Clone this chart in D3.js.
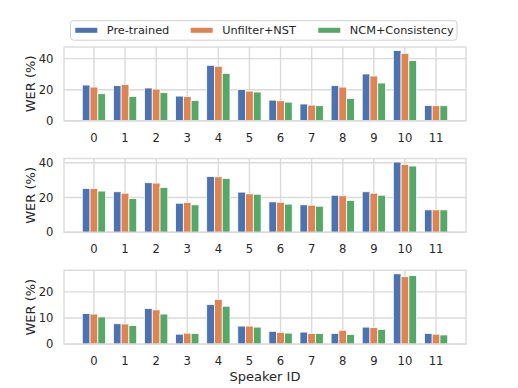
<!DOCTYPE html>
<html>
<head>
<meta charset="utf-8">
<script src="https://cdn.jsdelivr.net/npm/d3@7"></script>
<style>
  body { margin: 0; background: #fff; }
  svg { font-family: "DejaVu Sans", sans-serif; }
</style>
</head>
<body>
<div id="chart"></div>
<script>
// speaker ids on the x axis
let speakers = ["0", "1", "2", "3", "4", "5", "6", "7", "8", "9", "10", "11"]
let seriesNames = ["Pre-trained", "Unfilter+NST", "NCM+Consistency"]
let colors = ["#4C72B0", "#DD8452", "#55A868"]

// WER (%) per speaker, one array per method, one block per panel
let top_pre      = [23.0, 22.6, 21.1, 15.9, 35.7, 20.2, 13.3, 10.8, 22.6, 30.1, 45.2, 9.9]
let top_unfilter = [21.7, 23.4, 20.4, 15.5, 35.1, 19.1, 12.9, 10.1, 21.7, 28.8, 43.4, 9.7]
let top_ncm      = [17.4, 15.7, 18.1, 13.1, 30.5, 18.5, 12.0, 9.7, 14.4, 24.3, 38.7, 9.7]

let mid_pre      = [25.2, 23.3, 28.5, 16.7, 32.1, 23.1, 17.5, 15.8, 21.3, 23.3, 40.4, 12.9]
let mid_unfilter = [25.2, 22.5, 28.3, 17.1, 31.9, 22.1, 17.3, 15.6, 21.0, 22.5, 39.0, 12.9]
let mid_ncm      = [23.7, 19.4, 25.8, 15.8, 31.0, 21.9, 16.2, 15.0, 18.3, 21.3, 38.1, 12.9]

let bot_pre      = [11.7, 7.8, 13.6, 3.8, 15.1, 6.9, 4.9, 4.6, 4.1, 6.5, 26.9, 4.1]
let bot_unfilter = [11.5, 7.7, 13.1, 4.2, 17.1, 6.9, 4.5, 4.1, 5.3, 6.3, 25.8, 3.8]
let bot_ncm      = [10.4, 7.1, 11.5, 4.1, 14.5, 6.5, 4.2, 4.0, 3.7, 5.6, 26.2, 3.5]

let top_ticks = [0, 20, 40]
let mid_ticks = [0, 20, 40]
let bot_ticks = [0, 10, 20]

let panels = [
  { series: [top_pre, top_unfilter, top_ncm], ticks: top_ticks },
  { series: [mid_pre, mid_unfilter, mid_ncm], ticks: mid_ticks },
  { series: [bot_pre, bot_unfilter, bot_ncm], ticks: bot_ticks }
]

let width = 518
let height = 388
let plotLeft = 64
let plotRight = 466
let panelTops = [47, 158.5, 270.3]
let panelHeight = 73.8
let barW = 0.25
let gridColor = "#dadada"

let svg = d3.select("#chart").append("svg")
  .attr("width", width)
  .attr("height", height)

// matplotlib style x limits: bar extent plus 5% margin
let lo = -barW * 1.5, hi = speakers.length - 1 + barW * 1.5
let pad = (hi - lo) * 0.05
let x = d3.scaleLinear().domain([lo - pad, hi + pad]).range([plotLeft, plotRight])

panels.forEach(function(p, pi) {
  let top = panelTops[pi]
  let bottom = top + panelHeight
  let maxV = d3.max(p.series, s => d3.max(s))
  let y = d3.scaleLinear().domain([0, maxV * 1.05]).range([bottom, top])

  let g = svg.append("g").attr("class", "panel")

  // grid
  g.append("g").selectAll("line.v")
    .data(speakers)
    .join("line")
    .attr("x1", (d, i) => x(i)).attr("x2", (d, i) => x(i))
    .attr("y1", top).attr("y2", bottom)
    .attr("stroke", gridColor).attr("stroke-width", 1.4)

  g.append("g").selectAll("line.h")
    .data(p.ticks)
    .join("line")
    .attr("x1", plotLeft).attr("x2", plotRight)
    .attr("y1", d => y(d)).attr("y2", d => y(d))
    .attr("stroke", gridColor).attr("stroke-width", 1.4)

  // bars
  p.series.forEach(function(vals, si) {
    g.append("g").selectAll("rect")
      .data(vals)
      .join("rect")
      .attr("x", (d, i) => x(i + (si - 1) * barW - barW / 2))
      .attr("width", x(barW) - x(0))
      .attr("y", d => y(d))
      .attr("height", d => y(0) - y(d))
      .attr("fill", colors[si])
      .attr("stroke", "#fff")
      .attr("stroke-width", 0.8)
  })

  // frame
  g.append("rect")
    .attr("x", plotLeft).attr("y", top)
    .attr("width", plotRight - plotLeft).attr("height", panelHeight)
    .attr("fill", "none")
    .attr("stroke", gridColor).attr("stroke-width", 1.4)

  // y tick labels
  g.append("g").selectAll("text")
    .data(p.ticks)
    .join("text")
    .attr("x", 53.5)
    .attr("y", d => y(d))
    .attr("dy", "0.36em")
    .attr("text-anchor", "end")
    .attr("font-size", 11.6)
    .attr("fill", "#262626")
    .text(d => d)

  // x tick labels
  g.append("g").selectAll("text")
    .data(speakers)
    .join("text")
    .attr("x", (d, i) => x(i))
    .attr("y", bottom + 21)
    .attr("text-anchor", "middle")
    .attr("font-size", 11.6)
    .attr("fill", "#262626")
    .text(d => d)

  g.append("text")
    .attr("transform", "translate(34.5," + (top + panelHeight / 2) + ") rotate(-90)")
    .attr("text-anchor", "middle")
    .attr("font-size", 13)
    .attr("fill", "#262626")
    .text("WER (%)")
})

svg.append("text")
  .attr("x", (plotLeft + plotRight) / 2)
  .attr("y", 381)
  .attr("text-anchor", "middle")
  .attr("font-size", 13)
  .attr("fill", "#262626")
  .text("Speaker ID")

// legend
let legend = svg.append("g")
legend.append("rect")
  .attr("x", 70.5).attr("y", 20.7)
  .attr("width", 386.5).attr("height", 19.5)
  .attr("rx", 3)
  .attr("fill", "#fff")
  .attr("stroke", "#d0d0d0")
  .attr("stroke-width", 1)

let legendX = [75.3, 190.7, 318.3]
seriesNames.forEach(function(name, i) {
  legend.append("rect")
    .attr("x", legendX[i]).attr("y", 27.8)
    .attr("width", 22).attr("height", 5)
    .attr("fill", colors[i])
  legend.append("text")
    .attr("x", legendX[i] + 31.5)
    .attr("y", 34.3)
    .attr("font-size", 11.3)
    .attr("fill", "#262626")
    .text(name)
})
</script>
</body>
</html>
